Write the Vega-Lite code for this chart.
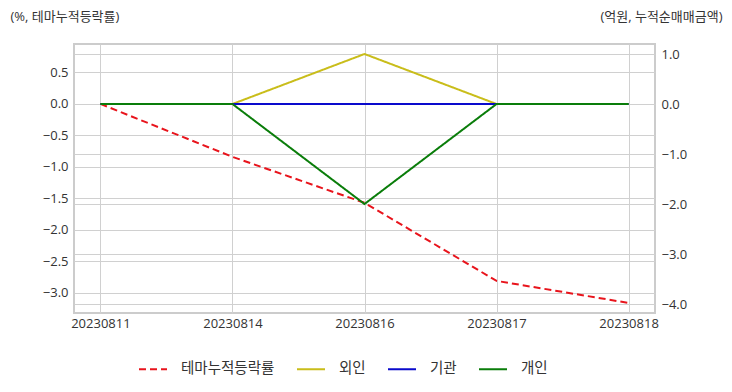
{
  "$schema": "https://vega.github.io/schema/vega-lite/v6.json",
  "width": 581,
  "height": 269,
  "autosize": {"type": "none"},
  "padding": {"left": 74, "top": 44, "right": 77, "bottom": 79},
  "background": "white",
  "config": {
    "font": "Open Sans, Noto Sans CJK KR",
    "view": {"stroke": "#cccccc", "strokeWidth": 2},
    "axis": {
      "labelFont": "Open Sans, Noto Sans CJK KR",
      "labelFontSize": 13,
      "labelColor": "#333333",
      "titleFont": "Open Sans, Noto Sans CJK KR",
      "titleFontSize": 13,
      "titleFontWeight": "normal",
      "titleColor": "#333333",
      "gridColor": "#d0d0d0",
      "gridWidth": 1,
      "ticks": false,
      "domain": false
    },
    "legend": {
      "labelFont": "Open Sans, Noto Sans CJK KR",
      "labelFontSize": 14.5,
      "labelColor": "#333333"
    }
  },
  "data": {
    "values": [
      {"date": "20230811", "series": "테마누적등락률", "value": 0},
      {"date": "20230814", "series": "테마누적등락률", "value": -0.84},
      {"date": "20230816", "series": "테마누적등락률", "value": -1.57},
      {"date": "20230817", "series": "테마누적등락률", "value": -2.81},
      {"date": "20230818", "series": "테마누적등락률", "value": -3.16},
      {"date": "20230811", "series": "외인", "value": 0},
      {"date": "20230814", "series": "외인", "value": 0},
      {"date": "20230816", "series": "외인", "value": 1.0},
      {"date": "20230817", "series": "외인", "value": 0},
      {"date": "20230818", "series": "외인", "value": 0},
      {"date": "20230811", "series": "기관", "value": 0},
      {"date": "20230814", "series": "기관", "value": 0},
      {"date": "20230816", "series": "기관", "value": 0},
      {"date": "20230817", "series": "기관", "value": 0},
      {"date": "20230818", "series": "기관", "value": 0},
      {"date": "20230811", "series": "개인", "value": 0},
      {"date": "20230814", "series": "개인", "value": 0},
      {"date": "20230816", "series": "개인", "value": -2.0},
      {"date": "20230817", "series": "개인", "value": 0},
      {"date": "20230818", "series": "개인", "value": 0}
    ]
  },
  "encoding": {
    "x": {
      "field": "date",
      "type": "ordinal",
      "scale": {"type": "point", "padding": 0.2},
      "axis": {"title": null, "labelAngle": 0, "grid": true, "labelPadding": 4}
    },
    "color": {
      "field": "series",
      "type": "nominal",
      "scale": {
        "domain": ["테마누적등락률", "외인", "기관", "개인"],
        "range": ["#e8141c", "#c9bd1a", "#0a0acc", "#0a7d0a"]
      },
      "legend": {
        "title": null,
        "orient": "none",
        "direction": "horizontal",
        "legendX": 64,
        "legendY": 310,
        "symbolType": "stroke",
        "symbolSize": 784,
        "symbolStrokeWidth": 2,
        "labelOffset": 13,
        "columnPadding": 18
      }
    },
    "strokeDash": {
      "field": "series",
      "type": "nominal",
      "scale": {
        "domain": ["테마누적등락률", "외인", "기관", "개인"],
        "range": [[7, 4], [1, 0], [1, 0], [1, 0]]
      },
      "legend": {
        "title": null,
        "orient": "none",
        "direction": "horizontal",
        "legendX": 64,
        "legendY": 310,
        "symbolType": "stroke",
        "symbolSize": 784,
        "symbolStrokeWidth": 2,
        "labelOffset": 13,
        "columnPadding": 18
      }
    }
  },
  "layer": [
    {
      "transform": [{"filter": "datum.series === '테마누적등락률'"}],
      "mark": {"type": "line", "strokeWidth": 2},
      "encoding": {
        "y": {
          "field": "value",
          "type": "quantitative",
          "scale": {"domain": [-3.32, 0.952], "nice": false, "zero": false},
          "axis": {
            "orient": "left",
            "values": [-3.0, -2.5, -2.0, -1.5, -1.0, -0.5, 0.0, 0.5],
            "format": ".1f",
            "labelPadding": 6,
            "grid": true,
            "title": "(%, 테마누적등락률)",
            "titleAngle": 0,
            "titleAlign": "left",
            "titleBaseline": "middle",
            "titleX": -64,
            "titleY": -28
          }
        }
      }
    },
    {
      "transform": [{"filter": "datum.series !== '테마누적등락률'"}],
      "mark": {"type": "line", "strokeWidth": 2},
      "encoding": {
        "y": {
          "field": "value",
          "type": "quantitative",
          "scale": {"domain": [-4.18, 1.2], "nice": false, "zero": false},
          "axis": {
            "orient": "right",
            "values": [-4, -3, -2, -1, 0, 1],
            "format": ".1f",
            "labelPadding": 6,
            "grid": true,
            "title": "(억원, 누적순매매금액)",
            "titleAngle": 0,
            "titleAlign": "right",
            "titleBaseline": "middle",
            "titleX": 67,
            "titleY": -28
          }
        }
      }
    }
  ],
  "resolve": {"scale": {"y": "independent"}, "axis": {"y": "independent"}}
}
